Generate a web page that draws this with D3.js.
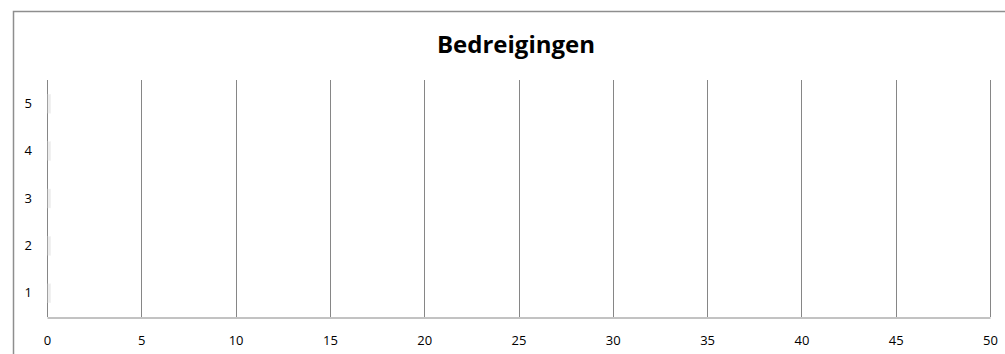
<!DOCTYPE html>
<html>
<head>
<meta charset="utf-8">
<script src="https://cdn.jsdelivr.net/npm/d3@7"></script>
<style>
  html, body { margin: 0; padding: 0; background: #fff; }
  svg { display: block; }
</style>
</head>
<body>
<svg id="chart" width="1005" height="354"></svg>
<script>
// Chart content
const title = "Bedreigingen";
const categories = ["1", "2", "3", "4", "5"];
const values = [0.15, 0.15, 0.15, 0.15, 0.15];
const xTicks = [0, 5, 10, 15, 20, 25, 30, 35, 40, 45, 50];

const svg = d3.select("#chart");
const font = "'Open Sans', sans-serif";

// Outer chart frame (runs past the right and bottom edges)
svg.append("rect")
  .attr("x", 13.5).attr("y", 11.5)
  .attr("width", 1000).attr("height", 360)
  .attr("fill", "#fff")
  .attr("stroke", "#8e8e8e").attr("stroke-width", 1.5);

const plot = { left: 47, right: 990, top: 80, bottom: 317 };

const x = d3.scaleLinear().domain([0, 50]).range([plot.left, plot.right]);
const y = d3.scaleBand()
  .domain(categories.slice().reverse())
  .range([plot.top, plot.bottom])
  .paddingInner(0.6).paddingOuter(0.3);

// Vertical gridlines
svg.append("g")
  .selectAll("line")
  .data(xTicks)
  .join("line")
  .attr("x1", d => Math.round(x(d)) + 0.5)
  .attr("x2", d => Math.round(x(d)) + 0.5)
  .attr("y1", plot.top).attr("y2", plot.bottom)
  .attr("stroke", "#868686").attr("stroke-width", 1);

// Bars
svg.append("g")
  .selectAll("rect")
  .data(categories.map((c, i) => ({ c, v: values[i] })))
  .join("rect")
  .attr("x", x(0) + 1)
  .attr("y", d => y(d.c))
  .attr("width", d => x(d.v) - x(0))
  .attr("height", y.bandwidth())
  .attr("fill", "#ececec")
  .attr("stroke", "#f4f4f4").attr("stroke-width", 0.5);

// X axis
const xAxis = svg.append("g")
  .attr("transform", `translate(0,${plot.bottom + 0.5})`)
  .call(d3.axisBottom(x).tickValues(xTicks).tickSize(0).tickPadding(18));
xAxis.select(".domain").attr("stroke", "#868686").attr("stroke-width", 1);
xAxis.selectAll("text")
  .attr("font-family", font).attr("font-size", 13).attr("fill", "#000");

// Y axis labels
const yAxis = svg.append("g")
  .attr("transform", `translate(${plot.left},0)`)
  .call(d3.axisLeft(y).tickSize(0).tickPadding(15));
yAxis.select(".domain").remove();
yAxis.selectAll("text")
  .attr("font-family", font).attr("font-size", 13).attr("fill", "#000");

// Title
svg.append("text")
  .attr("x", 516).attr("y", 53)
  .attr("text-anchor", "middle")
  .attr("font-family", font).attr("font-weight", "bold")
  .attr("font-size", 24).attr("fill", "#000")
  .text(title);
</script>
</body>
</html>
